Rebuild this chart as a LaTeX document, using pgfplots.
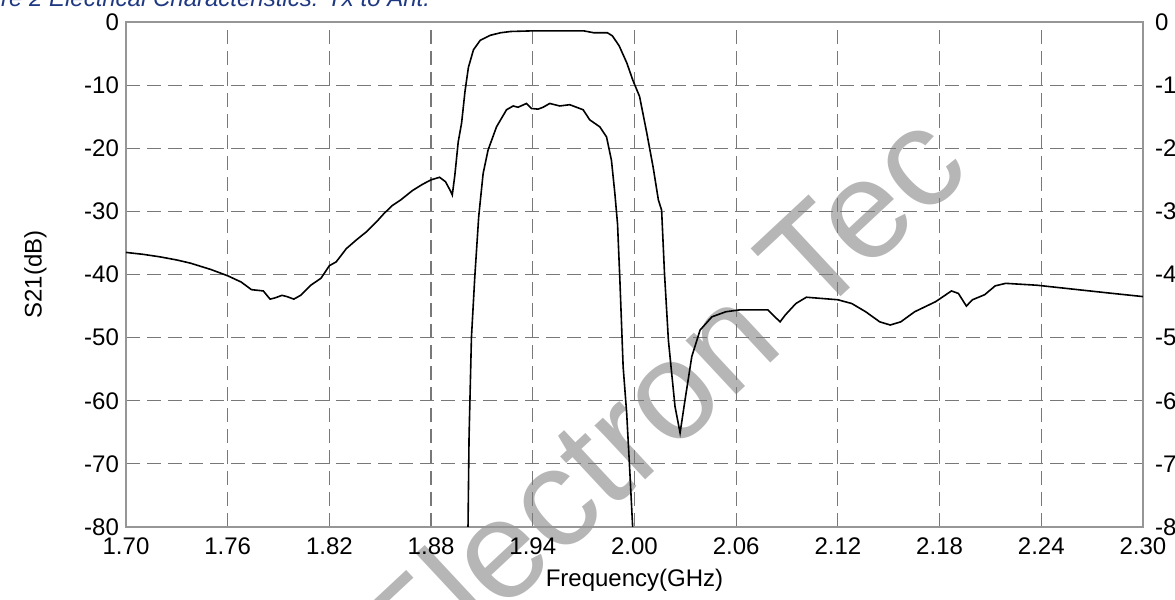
\documentclass[border=0pt]{standalone}
\usepackage{pgfplots}
\pgfplotsset{compat=1.18}
\usepackage{fontspec}
\setmainfont{Liberation Sans}
\definecolor{gridgray}{RGB}{120,120,120}
\definecolor{framegray}{RGB}{150,150,150}
\definecolor{wmgray}{RGB}{182,182,182}
\definecolor{capblue}{RGB}{31,56,130}

\begin{document}
\begin{tikzpicture}
% page = 1175x600 px at 0.5pt per px, axis box origin at (0,0)
\path[use as bounding box] (-63pt,-36.5pt) rectangle (524.5pt,263.5pt);
\clip (-63pt,-36.5pt) rectangle (524.5pt,263.5pt);
\node[anchor=base west, inner sep=0pt, text=capblue,
      font=\fontsize{12}{14}\selectfont\itshape] at (-86pt,260pt)
      {Figure 2 Electrical Characteristics: Tx to Ant.};
\node[rotate=43, inner sep=0pt, text=wmgray,
      font=\fontsize{70}{72}\selectfont] at (266pt,64pt) {Electron Tec};

\begin{axis}[
  width=508.5pt, height=252.5pt, scale only axis,
  xmin=1.7, xmax=2.3, ymin=-80, ymax=0,
  xtick={1.70,1.76,1.82,1.88,1.94,2.00,2.06,2.12,2.18,2.24,2.30},
  xticklabels={1.70,1.76,1.82,1.88,1.94,2.00,2.06,2.12,2.18,2.24,2.30},
  ytick={-80,-70,-60,-50,-40,-30,-20,-10,0},
  yticklabels={-80,-70,-60,-50,-40,-30,-20,-10,0},
  grid=major,
  major grid style={gridgray, line width=0.6pt, dash pattern=on 7pt off 3.5pt},
  axis line style={framegray, line width=0.8pt},
  major tick length=0pt,
  tick label style={font=\fontsize{12}{14}\selectfont},
  label style={font=\fontsize{12}{14}\selectfont},
  xticklabel style={yshift=-2pt},
  xlabel={Frequency(GHz)}, ylabel={S21(dB)},
  ylabel shift=12pt,
]
% S21 wide response
\addplot[black, line width=0.8pt] coordinates {
(1.700,-36.5) (1.710,-36.8) (1.720,-37.2) (1.730,-37.7) (1.738,-38.2)
(1.750,-39.2) (1.760,-40.2) (1.768,-41.2) (1.774,-42.4) (1.781,-42.6)
(1.785,-43.9) (1.788,-43.7) (1.792,-43.3) (1.795,-43.5) (1.799,-43.9)
(1.803,-43.3) (1.809,-41.7) (1.815,-40.6) (1.820,-38.6) (1.824,-38.0)
(1.830,-35.9) (1.836,-34.5) (1.842,-33.2) (1.848,-31.6) (1.852,-30.4)
(1.857,-29.1) (1.862,-28.2) (1.869,-26.7) (1.875,-25.7) (1.880,-25.0)
(1.885,-24.6) (1.8885,-25.3) (1.8915,-26.8) (1.8925,-27.4) (1.894,-24.3)
(1.896,-19.0) (1.898,-16.0) (1.900,-11.0) (1.902,-7.2) (1.905,-4.4)
(1.909,-2.9) (1.915,-2.1) (1.921,-1.7) (1.927,-1.5) (1.940,-1.4)
(1.955,-1.4) (1.970,-1.4) (1.976,-1.7) (1.984,-1.7) (1.987,-2.2)
(1.991,-3.8) (1.9955,-6.5) (1.999,-9.2) (2.003,-11.8) (2.0072,-17.5)
(2.011,-23.0) (2.0141,-28.2) (2.016,-29.8) (2.0177,-39.8) (2.020,-50.4)
(2.0239,-60.9) (2.0269,-65.1) (2.0298,-59.9) (2.0338,-53.0) (2.0387,-48.8)
(2.0457,-46.7) (2.0539,-45.9) (2.0622,-45.6) (2.0787,-45.6) (2.0828,-46.7)
(2.0859,-47.5) (2.0890,-46.4) (2.0952,-44.6) (2.1014,-43.6) (2.1200,-44.0)
(2.1282,-44.6) (2.1364,-45.9) (2.1447,-47.5) (2.1509,-48.0) (2.1571,-47.5)
(2.1653,-45.9) (2.1777,-44.3) (2.1870,-42.6) (2.1911,-43.0) (2.1958,-45.0)
(2.1994,-44.0) (2.2066,-43.2) (2.2128,-41.8) (2.2190,-41.4) (2.2375,-41.7)
(2.2581,-42.3) (2.2788,-42.9) (2.300,-43.5)
};
% S21 narrow response
\addplot[black, line width=0.8pt] coordinates {
(1.9017,-82) (1.9024,-65.7) (1.9038,-50.0) (1.9058,-40.3) (1.9081,-30.8)
(1.9107,-24.0) (1.9136,-20.3) (1.9186,-16.6) (1.9245,-13.9) (1.9284,-13.3)
(1.9313,-13.5) (1.9363,-12.9) (1.9392,-13.7) (1.9431,-13.8) (1.9461,-13.5)
(1.9500,-12.9) (1.9559,-13.3) (1.9618,-13.1) (1.9697,-13.9) (1.9736,-15.5)
(1.9795,-16.6) (1.9835,-18.2) (1.9864,-21.9) (1.9884,-27.1) (1.9900,-32.0)
(1.9914,-41.0) (1.9933,-54.6) (1.9954,-62.0) (1.9974,-72.0) (1.9993,-82)
};
\end{axis}

% right-hand tick labels
\begin{axis}[
  width=508.5pt, height=252.5pt, scale only axis,
  xmin=1.7, xmax=2.3, ymin=-80, ymax=0,
  axis x line=none, axis y line*=right,
  axis line style={draw=none},
  ytick={-80,-70,-60,-50,-40,-30,-20,-10,0},
  yticklabels={-80,-70,-60,-50,-40,-30,-20,-10,0},
  major tick length=0pt,
  tick label style={font=\fontsize{12}{14}\selectfont},
  yticklabel style={xshift=2.5pt},
]
\end{axis}
\end{tikzpicture}
\end{document}
